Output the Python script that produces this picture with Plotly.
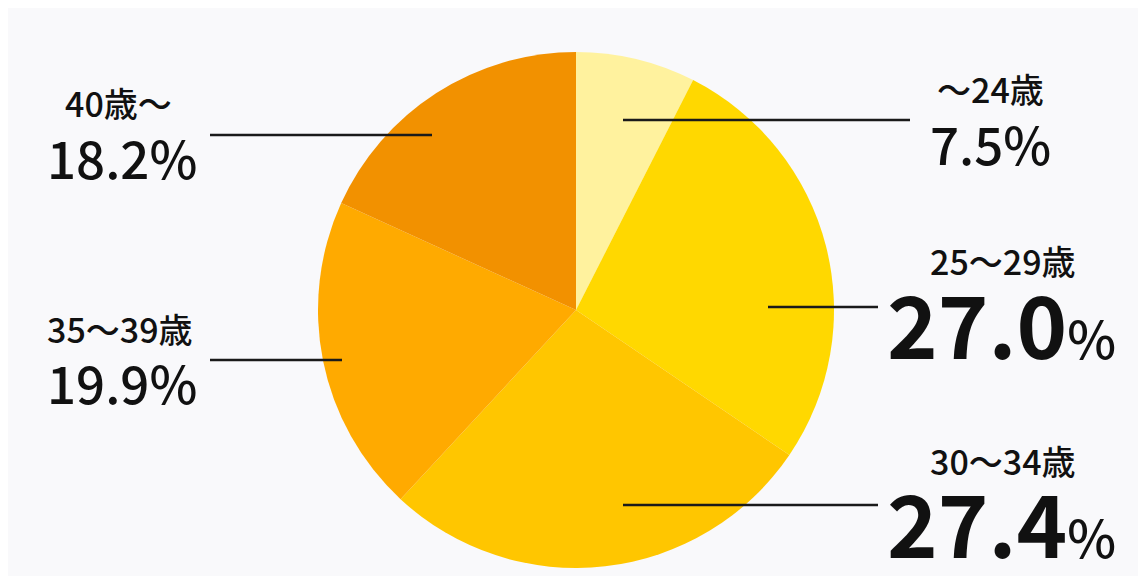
import plotly.graph_objects as go

# age groups and share (%)
age_groups = ["～24歳", "25～29歳", "30～34歳", "35～39歳", "40歳～"]
shares = [7.5, 27.0, 27.4, 19.9, 18.2]
slice_colors = ["#FFF29E", "#FFD800", "#FFC600", "#FFAA00", "#F29100"]

# the page has an 8px body margin, so the figure is a bit smaller than the window
OFF = 8
W, H = 1130, 568
FONT = "Noto Sans CJK JP"


def px(x):
    return (x - OFF) / W


def py(y):
    return 1 - (y - OFF) / H


cx, cy, r = 576, 310, 258

fig = go.Figure(go.Pie(
    labels=age_groups,
    values=shares,
    sort=False,
    direction="clockwise",
    rotation=0,
    marker=dict(colors=slice_colors, line=dict(width=0)),
    textinfo="none",
    hoverinfo="label+percent",
    domain=dict(x=[px(cx - r), px(cx + r)], y=[py(cy + r), py(cy - r)]),
))

# leader lines (pixel positions: x0, x1, y)
leaders = [(623, 910, 120), (768, 878, 307), (623, 878, 505), (210, 342, 360), (210, 432, 135)]
for x0, x1, y in leaders:
    fig.add_shape(type="line", xref="paper", yref="paper",
                  x0=px(x0), x1=px(x1), y0=py(y), y1=py(y),
                  line=dict(color="#1a1a1a", width=2.5))

# label placement (name x, name y, pct x, pct y, big?)
placement = [(990, 89, 990, 143, False),
             (1003, 260, 1002, 321, True),
             (1003, 460, 1002, 520, True),
             (120, 328, 122, 382, False),
             (118, 103, 122, 157, False)]

for name, val, (nx, ny, vx, vy, big) in zip(age_groups, shares, placement):
    fig.add_annotation(x=px(nx), y=py(ny), xref="paper", yref="paper",
                       text=name, showarrow=False, xanchor="center", yanchor="middle",
                       font=dict(family=FONT, size=34, color="#111111", weight=500))
    if big:
        txt = f"<b>{val:.1f}</b><span style='font-size:52px'>%</span>"
        size = 86
    else:
        txt = f"{val:.1f}%"
        size = 51
    fig.add_annotation(x=px(vx), y=py(vy), xref="paper", yref="paper",
                       text=txt, showarrow=False, xanchor="center", yanchor="middle",
                       font=dict(family=FONT, size=size, color="#111111", weight=500))

fig.update_layout(
    width=W, height=H,
    margin=dict(l=0, r=0, t=0, b=0),
    paper_bgcolor="#F9F9FB",
    plot_bgcolor="#F9F9FB",
    showlegend=False,
)

fig.write_html("out.html")
